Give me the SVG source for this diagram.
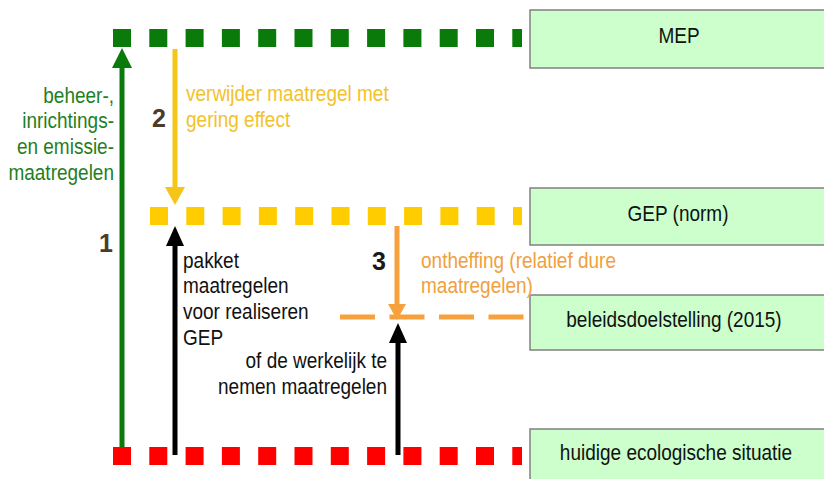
<svg xmlns="http://www.w3.org/2000/svg" width="824" height="479" viewBox="0 0 824 479">
<style>
text{font-family:"Liberation Sans",Arial,sans-serif;font-size:19px}
.box{fill:#CCFFCC;stroke:#808080;stroke-width:1.5}
.lvl{fill:none;stroke-width:18;stroke-dasharray:18 18.3}
.num{font-size:25px;font-weight:bold}
</style>
<rect width="824" height="479" fill="#fff"/>
<g id="levels">
<line class="lvl" x1="113" y1="38" x2="522" y2="38" stroke="#0A7A0A"/>
<line class="lvl" x1="150" y1="216" x2="522" y2="216" stroke="#FFCC00"/>
<line class="lvl" x1="113" y1="456" x2="522" y2="456" stroke="#FF0000"/>
<line x1="340" y1="317" x2="527" y2="317" stroke="#F7A13E" stroke-width="5" stroke-dasharray="35 14.5" fill="none"/>
</g>
<g id="node-mep"><rect class="box" x="530" y="10" width="300" height="58"/><text transform="translate(679,43) scale(1,1.13)" text-anchor="middle" fill="#111">MEP</text></g>
<g id="node-gep"><rect class="box" x="530" y="188" width="300" height="57"/><text transform="translate(678,221) scale(1,1.13)" text-anchor="middle" fill="#111">GEP (norm)</text></g>
<g id="node-beleid"><rect class="box" x="530" y="295" width="300" height="55"/><text transform="translate(674,327) scale(1,1.13)" text-anchor="middle" fill="#111">beleidsdoelstelling (2015)</text></g>
<g id="node-huidig"><rect class="box" x="530" y="429" width="300" height="60"/><text transform="translate(676,460) scale(1,1.13)" text-anchor="middle" fill="#111">huidige ecologische situatie</text></g>
<g id="connectors">
<line x1="122" y1="447" x2="122" y2="64" stroke="#0A7A0A" stroke-width="5"/>
<polygon points="122,48 112,68 132,68" fill="#0A7A0A"/>
<line x1="175" y1="49" x2="175" y2="192" stroke="#F5C518" stroke-width="5"/>
<polygon points="175,205 165,187 185,187" fill="#F5C518"/>
<line x1="175" y1="455" x2="175" y2="240" stroke="#000" stroke-width="5"/>
<polygon points="175,226 166,246 184,246" fill="#000"/>
<line x1="397" y1="226" x2="397" y2="308" stroke="#F7A13E" stroke-width="5"/>
<polygon points="397,320 388,304 406,304" fill="#F7A13E"/>
<line x1="398" y1="455" x2="398" y2="338" stroke="#000" stroke-width="5"/>
<polygon points="398,323 389,343 407,343" fill="#000"/>
</g>
<g id="labels">
<g fill="#1F7F1F" text-anchor="end">
<text transform="translate(114,103) scale(1,1.13)">beheer-,</text>
<text transform="translate(114,128) scale(1,1.13)">inrichtings-</text>
<text transform="translate(114,154) scale(1,1.13)">en emissie-</text>
<text transform="translate(114,180) scale(1,1.13)">maatregelen</text>
</g>
<g fill="#F2C22A">
<text transform="translate(186,101) scale(1,1.13)">verwijder maatregel met</text>
<text transform="translate(186,127) scale(1,1.13)">gering effect</text>
</g>
<g fill="#111">
<text transform="translate(183,268) scale(1,1.13)">pakket</text>
<text transform="translate(183,293) scale(1,1.13)">maatregelen</text>
<text transform="translate(183,319) scale(1,1.13)">voor realiseren</text>
<text transform="translate(183,345) scale(1,1.13)">GEP</text>
<text transform="translate(387,368) scale(1,1.13)" text-anchor="end">of de werkelijk te</text>
<text transform="translate(387,394) scale(1,1.13)" text-anchor="end">nemen maatregelen</text>
</g>
<g fill="#F0A040">
<text transform="translate(421,268) scale(1,1.13)">ontheffing (relatief dure</text>
<text transform="translate(421,293) scale(1,1.13)">maatregelen)</text>
</g>
<text class="num" x="99" y="252" fill="#4D3B2A">1</text>
<text class="num" x="152" y="127" fill="#4D3B2A">2</text>
<text class="num" x="372" y="270" fill="#1A1A1A">3</text>
</g>
</svg>
